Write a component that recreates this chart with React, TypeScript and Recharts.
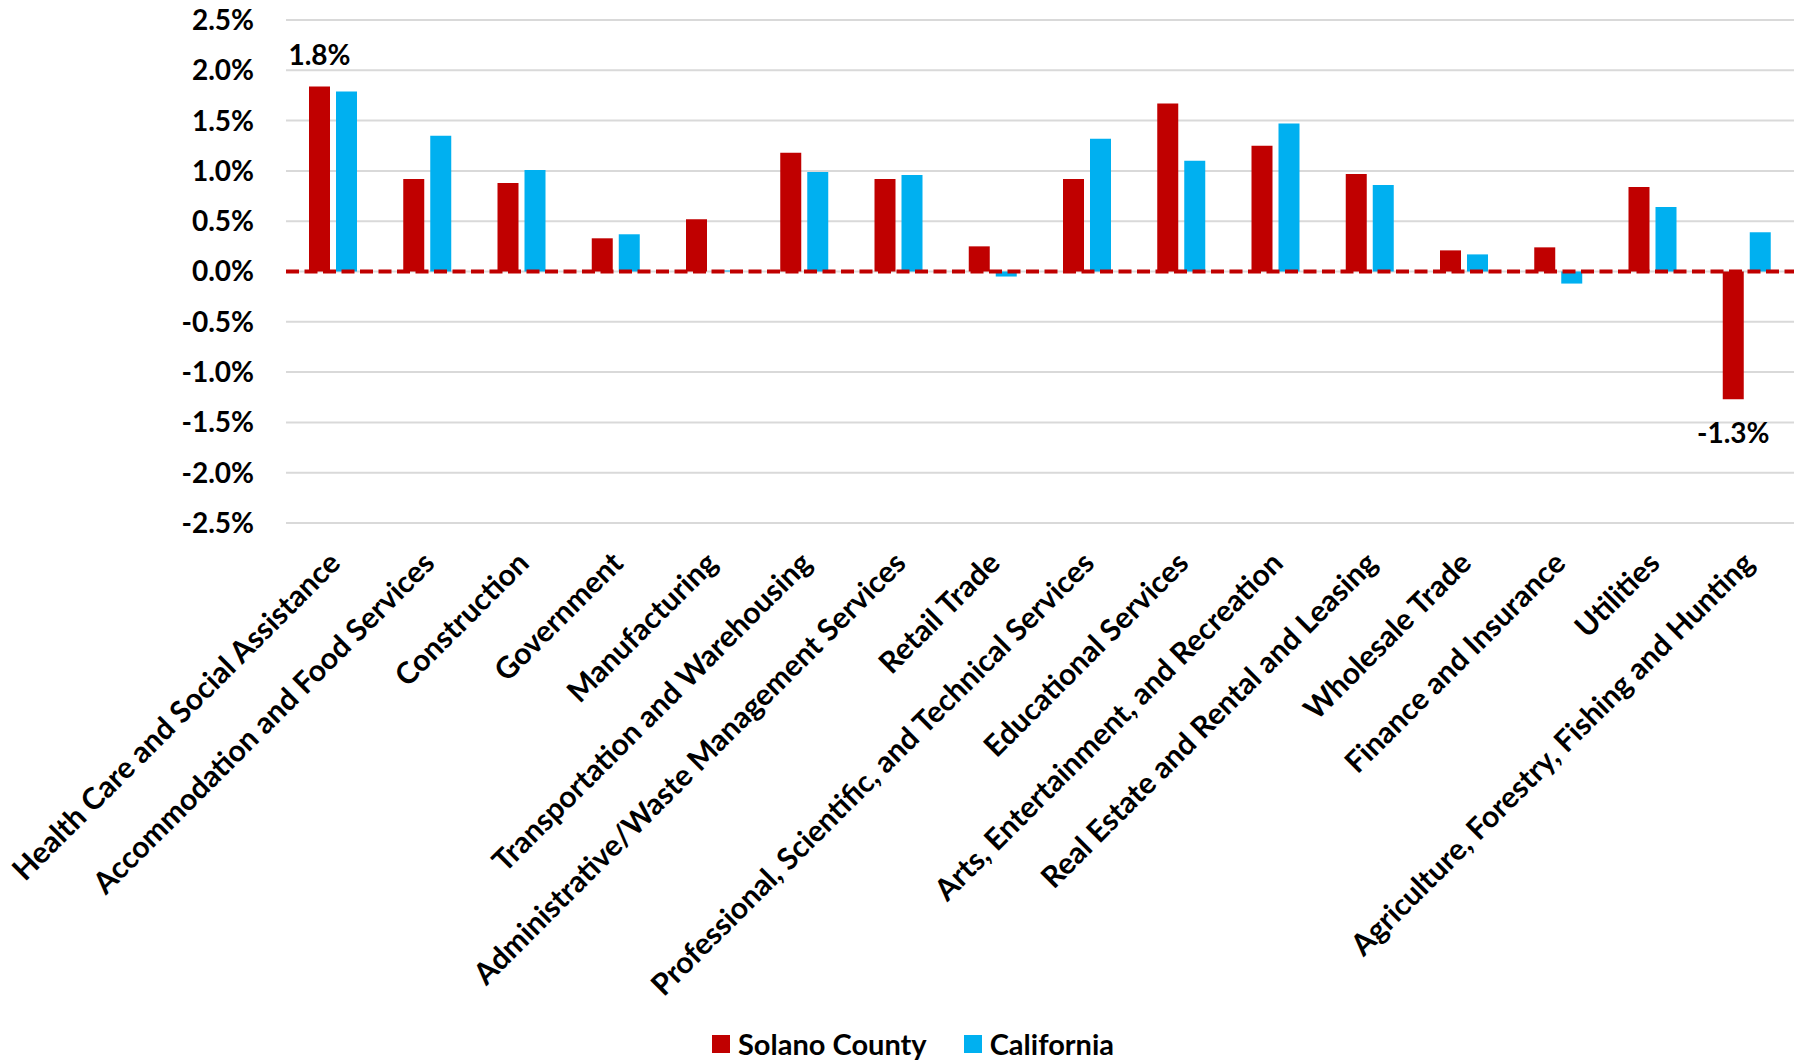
import React from 'react';
import { BarChart, Bar, XAxis, YAxis, CartesianGrid, ReferenceLine, LabelList } from 'recharts';

const industries = [
  'Health Care and Social Assistance',
  'Accommodation and Food Services',
  'Construction',
  'Government',
  'Manufacturing',
  'Transportation and Warehousing',
  'Administrative/Waste Management Services',
  'Retail Trade',
  'Professional, Scientific, and Technical Services',
  'Educational Services',
  'Arts, Entertainment, and Recreation',
  'Real Estate and Rental and Leasing',
  'Wholesale Trade',
  'Finance and Insurance',
  'Utilities',
  'Agriculture, Forestry, Fishing and Hunting',
];

// percent change
const solano = [1.84, 0.92, 0.88, 0.33, 0.52, 1.18, 0.92, 0.25, 0.92, 1.67, 1.25, 0.97, 0.21, 0.24, 0.84, -1.27];
const california = [1.79, 1.35, 1.01, 0.37, 0.01, 0.99, 0.96, -0.05, 1.32, 1.10, 1.47, 0.86, 0.17, -0.12, 0.64, 0.39];

const yTicks = [-2.5, -2.0, -1.5, -1.0, -0.5, 0, 0.5, 1.0, 1.5, 2.0, 2.5];

// only these Solano bars carry a value label
const labelledIndexes = [0, 15];

const data = industries.map((name, i) => ({
  name,
  solano: solano[i],
  california: california[i],
}));

const FONT = 'Lato, "Open Sans", sans-serif';
const RED = '#C00000';
const BLUE = '#00B0F0';

const AxisTick = (props: any) => {
  const { x, y, payload } = props;
  const tx = x + 9;
  const ty = y + 40;
  return (
    <text
      x={tx}
      y={ty}
      transform={`rotate(-45, ${tx}, ${ty})`}
      textAnchor="end"
      fontFamily={FONT}
      fontWeight={700}
      fontSize={30}
      fill="#000"
    >
      {payload.value}
    </text>
  );
};

const ValueLabel = (props: any) => {
  const { x, y, width, height, value, index } = props;
  if (!labelledIndexes.includes(index)) return null;
  const top = Math.min(y, y + height);
  const bottom = Math.max(y, y + height);
  const ty = value >= 0 ? top - 21 : bottom + 44;
  return (
    <text
      x={x + width / 2}
      y={ty}
      textAnchor="middle"
      fontFamily={FONT}
      fontWeight={700}
      fontSize={28}
      fill="#000"
    >
      {value.toFixed(1)}%
    </text>
  );
};

const legendItems = [
  { label: 'Solano County', color: RED },
  { label: 'California', color: BLUE },
];

export default function App() {
  return (
    <div style={{ position: 'absolute', left: 0, top: 0, width: 1808, height: 1061, background: '#fff', overflow: 'hidden' }}>
      <BarChart
        width={1808}
        height={1061}
        data={data}
        margin={{ top: 20, right: 14, bottom: 0, left: 0 }}
        barGap={6}
      >
        <CartesianGrid vertical={false} stroke="#D9D9D9" strokeWidth={2} />
        <XAxis
          dataKey="name"
          axisLine={false}
          tickLine={false}
          tickSize={0}
          interval={0}
          height={538}
          tick={<AxisTick />}
        />
        <YAxis
          domain={[-2.5, 2.5]}
          ticks={yTicks}
          axisLine={false}
          tickLine={false}
          tickSize={0}
          tickMargin={32}
          width={286}
          tickFormatter={(v: number) => `${v.toFixed(1)}%`}
          tick={{ fontFamily: FONT, fontWeight: 700, fontSize: 28, fill: '#000' }}
        />
        <Bar dataKey="solano" fill={RED} barSize={21} isAnimationActive={false}>
          <LabelList dataKey="solano" content={<ValueLabel />} />
        </Bar>
        <Bar dataKey="california" fill={BLUE} barSize={21} isAnimationActive={false} />
        <ReferenceLine y={0} stroke={RED} strokeWidth={4} strokeDasharray="13 5.5" />
      </BarChart>
      <div
        style={{
          position: 'absolute',
          left: 712,
          top: 1027,
          display: 'flex',
          alignItems: 'center',
          fontFamily: FONT,
          fontWeight: 700,
          fontSize: 29,
          lineHeight: '34px',
          color: '#000',
        }}
      >
        {legendItems.map((item) => (
          <div key={item.label} style={{ display: 'flex', alignItems: 'center', marginRight: 37 }}>
            <span style={{ display: 'inline-block', width: 18, height: 18, background: item.color, marginRight: 8 }} />
            <span>{item.label}</span>
          </div>
        ))}
      </div>
    </div>
  );
}
